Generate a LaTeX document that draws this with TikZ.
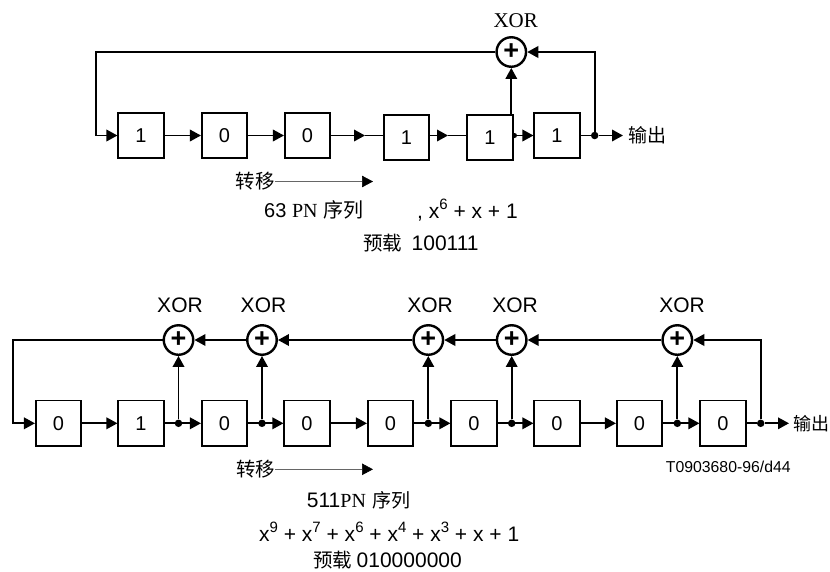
\documentclass[tikz,border=0pt]{standalone}
\usepackage{fontspec}
\setmainfont{Liberation Sans}
\newfontfamily\srf{Liberation Serif}
\newfontfamily\cjk{Noto Sans CJK SC}
\usetikzlibrary{arrows.meta}
\newcommand{\pw}[1]{x\raisebox{.42em}{\fontsize{15}{15}\selectfont #1}}
\tikzset{
	cell/.style={draw, line width=1.6pt, minimum size=45.5pt, inner sep=0pt, font=\fontsize{20}{24}\selectfont},
	xorgate/.style={draw, circle, line width=2.4pt, minimum size=29.5pt, inner sep=0pt, font=\fontsize{27}{27}\selectfont\bfseries},
	dot/.style={fill, circle, minimum size=7.5pt, inner sep=0pt},
	wire/.style={line width=1.9pt},
	flow/.style={line width=1.9pt, -{Triangle[length=11pt,width=11.5pt]}},
	shiftarrow/.style={line width=0.6pt, black!60, -{Triangle[length=11pt,width=11.5pt,color=black]}},
	txt/.style={inner sep=0pt, font=\fontsize{21}{24}\selectfont},
}
\begin{document}
\begin{tikzpicture}[x=1pt,y=-1pt]
		\useasboundingbox (0,0) rectangle (830,571);

		% first generator
		\node[cell] (11) at (141,135.5) {1};
		\node[cell] (12) at (224.5,135.5) {0};
		\node[cell] (13) at (307.5,135.5) {0};
		\node[cell] (14) at (406.5,137.5) {1};
		\node[cell] (15) at (490,137.5) {1};
		\node[cell] (16) at (557,135.5) {1};
		\node[xorgate] (x1) at (511.3,52) {+};
		\node[txt, font=\fontsize{21}{24}\selectfont\srf] (xl1) at (515.7,21) {XOR};
		\node[dot, minimum size=5pt] (j1) at (514.5,135.5) {};
		\node[dot] (j2) at (594.7,135.5) {};
		\node[txt, anchor=west, inner sep=5pt, font=\fontsize{19}{24}\selectfont\cjk] (o1) at (623,135.5) {输出};

		\coordinate (c1) at (95.7,52);
		\coordinate (c2) at (95.7,135.5);
		\coordinate (m34) at (365,135.5);
		\coordinate (m45) at (448,135.5);
		\coordinate (t1) at (511.3,115);

		\draw[flow] (x1) -- (c1) -- (c2) -- (11);
		\draw[flow] (11) -- (12);
		\draw[flow] (12) -- (13);
		\draw[flow] (13) -- (m34);
		\draw[wire] (m34) -- (m34 -| 14.west);
		\draw[flow] (14.east |- m45) -- (m45);
		\draw[wire] (m45) -- (m45 -| 15.west);
		\draw[flow] (15.east |- 16) -- (16);
		\draw[flow] (t1) -- (x1);
		\draw[wire] (16) -- (j2);
		\draw[flow] (j2) -- (o1);
		\draw[flow] (j2) |- (x1);

		\node[txt, font=\fontsize{19.5}{24}\selectfont\cjk] (s1) at (255,181.5) {转移};
		\coordinate (e1) at (373,181.5);
		\draw[shiftarrow] (s1) -- (e1);
		\node[txt, anchor=west, font=\fontsize{20}{24}\selectfont] (t11) at (264,210) {63 {\srf PN} {\cjk 序列}};
		\node[txt, anchor=west] (t12) at (417,210) {, \pw{6} + x + 1};
		\node[txt, anchor=west] (t13) at (363,243) {{\fontsize{19.5}{24}\selectfont\cjk 预载}\hspace{9.5pt}100111};

		% second generator
		\node[cell] (21) at (58.5,423.3) {0};
		\node[cell] (22) at (141,423.3) {1};
		\node[cell] (23) at (224.5,423.3) {0};
		\node[cell] (24) at (307,423.3) {0};
		\node[cell] (25) at (390.5,423.3) {0};
		\node[cell] (26) at (474,423.3) {0};
		\node[cell] (27) at (557,423.3) {0};
		\node[cell] (28) at (639.5,423.3) {0};
		\node[cell] (29) at (723,423.3) {0};

		\node[xorgate] (x21) at (178.5,340) {+};
		\node[xorgate] (x22) at (262,340) {+};
		\node[xorgate] (x23) at (428.3,340) {+};
		\node[xorgate] (x24) at (511.7,340) {+};
		\node[xorgate] (x25) at (677.3,340) {+};

		\node[txt] (xl21) at (180,305) {XOR};
		\node[txt] (xl22) at (263.5,305) {XOR};
		\node[txt] (xl23) at (430,305) {XOR};
		\node[txt] (xl24) at (515,305) {XOR};
		\node[txt] (xl25) at (682,305) {XOR};

		\node[dot] (j21) at (178.5,423.3) {};
		\node[dot] (j22) at (262,423.3) {};
		\node[dot] (j23) at (428.3,423.3) {};
		\node[dot] (j24) at (511.7,423.3) {};
		\node[dot] (j25) at (677.3,423.3) {};
		\node[dot] (j26) at (760.7,423.3) {};
		\node[txt, anchor=west, inner sep=4pt, font=\fontsize{18}{24}\selectfont\cjk] (o2) at (789,423.3) {输出};

		\coordinate (c3) at (12.7,340);
		\coordinate (c4) at (12.7,423.3);

		\draw[flow] (x21) -- (c3) -- (c4) -- (21);
		\draw[flow] (21) -- (22);
		\draw[flow] (22) -- (23);
		\draw[flow] (23) -- (24);
		\draw[flow] (24) -- (25);
		\draw[flow] (25) -- (26);
		\draw[flow] (26) -- (27);
		\draw[flow] (27) -- (28);
		\draw[flow] (28) -- (29);
		\draw[wire] (29) -- (j26);
		\draw[flow] (j26) -- (o2);

		\draw[flow] (j21) -- (x21);
		\draw[flow] (j22) -- (x22);
		\draw[flow] (j23) -- (x23);
		\draw[flow] (j24) -- (x24);
		\draw[flow] (j25) -- (x25);
		\draw[flow] (x22) -- (x21);
		\draw[flow] (x23) -- (x22);
		\draw[flow] (x24) -- (x23);
		\draw[flow] (x25) -- (x24);
		\draw[flow] (j26) |- (x25);

		\node[txt, anchor=west, font=\fontsize{15.8}{18}\selectfont] (t20) at (665.7,466.7) {T0903680-96/d44};
		\node[txt, font=\fontsize{19.5}{24}\selectfont\cjk] (s2) at (255.5,469.3) {转移};
		\coordinate (e2) at (373,469.3);
		\draw[shiftarrow] (s2) -- (e2);
		\node[txt, anchor=west] (t21) at (306.7,500) {511{\fontsize{20}{24}\selectfont\srf PN}\hspace{7pt}{\fontsize{19}{24}\selectfont\cjk 序列}};
		\node[txt, anchor=west] (t22) at (259,531.7) {\pw{9} + \pw{7} + \pw{6} + \pw{4} + \pw{3} + x + 1};
		\node[txt, anchor=west] (t23) at (313,560.5) {{\fontsize{19.5}{24}\selectfont\cjk 预载}\hspace{4.5pt}010000000};
	\end{tikzpicture}
\end{document}
